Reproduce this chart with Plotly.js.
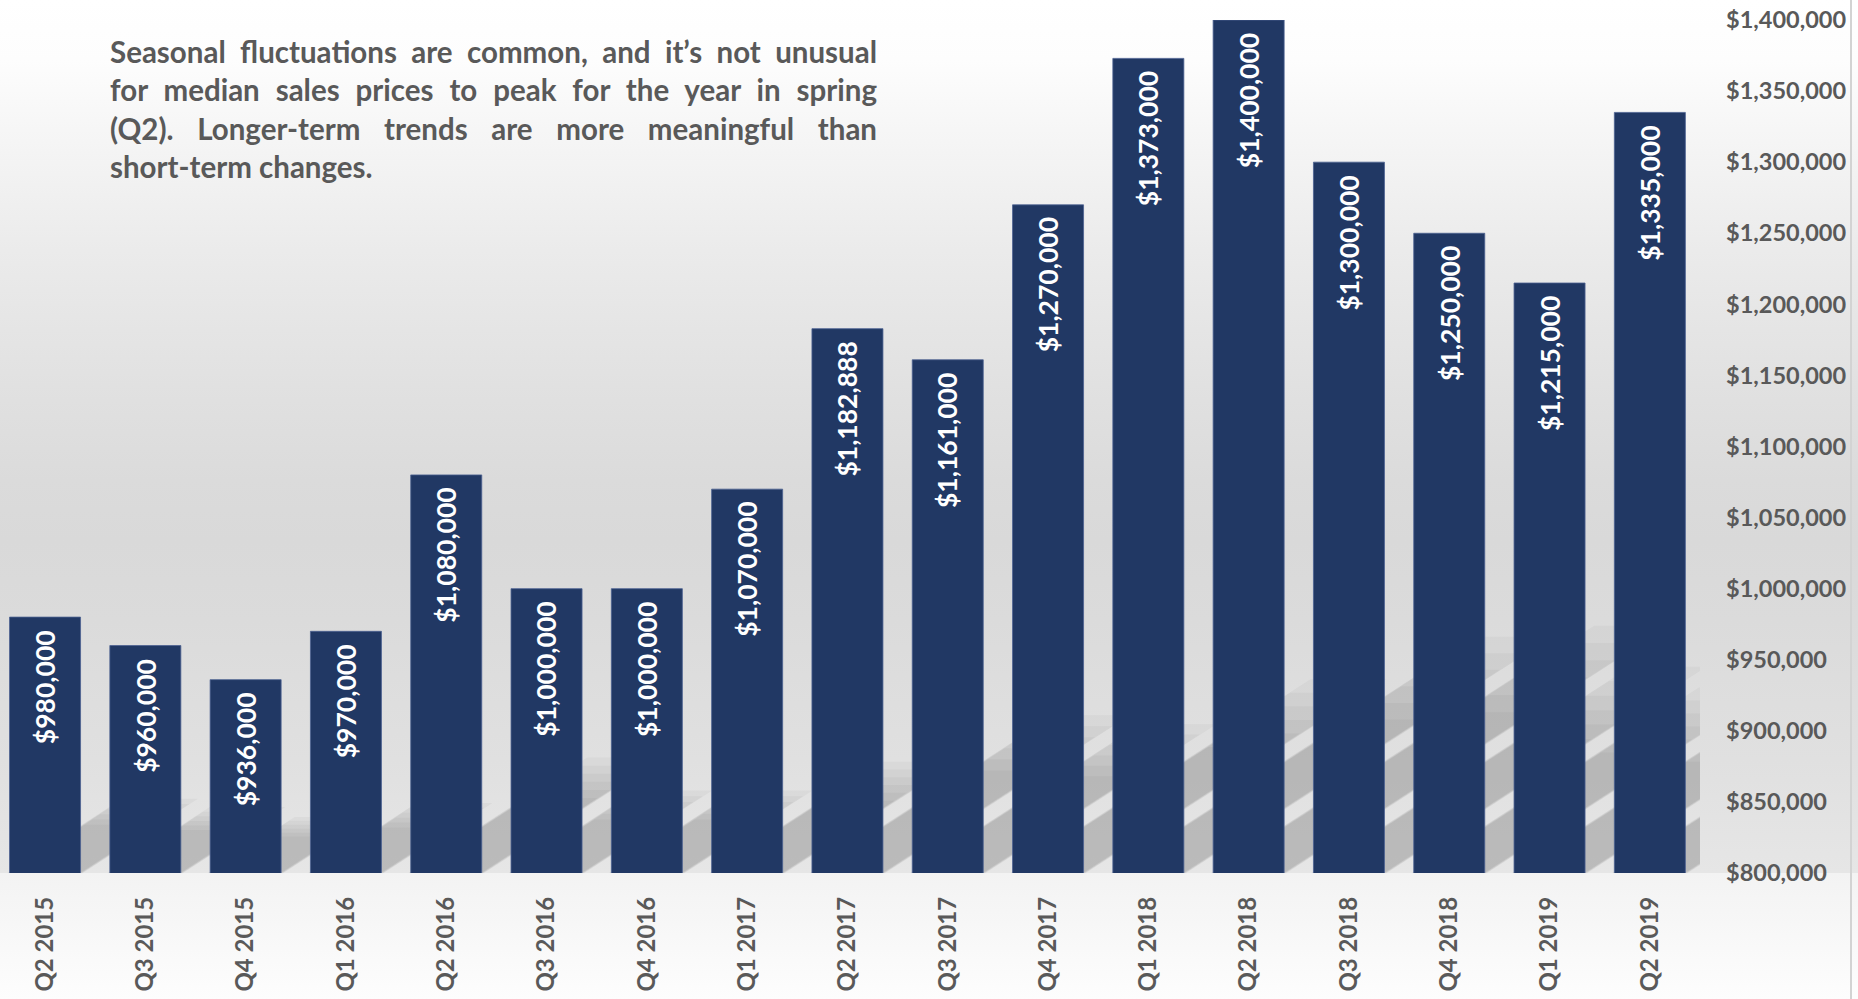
<!DOCTYPE html>
<html>
<head>
<meta charset="utf-8">
<script src="https://cdn.plot.ly/plotly-3.0.1.min.js"></script>
<style>
  html, body { margin: 0; padding: 0; }
  #chart {
    width: 1858px; height: 999px;
    background: linear-gradient(to bottom,
      #ffffff 0px, #fdfdfd 60px, #f6f6f6 130px, #ebebeb 250px, #e5e5e5 330px,
      #e0e0e0 400px, #dbdbdb 480px, #d9d9d9 540px, #dbdbdb 620px, #e0e0e0 760px,
      #e6e6e6 873px, #f3f3f3 873px, #fdfdfd 999px);
  }
</style>
</head>
<body>
<div id="chart"></div>
<script>
// ---- data ----
const categories = ['Q2 2015','Q3 2015','Q4 2015','Q1 2016','Q2 2016','Q3 2016','Q4 2016','Q1 2017',
  'Q2 2017','Q3 2017','Q4 2017','Q1 2018','Q2 2018','Q3 2018','Q4 2018','Q1 2019','Q2 2019'];
const prices = [980000, 960000, 936000, 970000, 1080000, 1000000, 1000000, 1070000,
  1182888, 1161000, 1270000, 1373000, 1400000, 1300000, 1250000, 1215000, 1335000];
const priceLabels = ['$980,000','$960,000','$936,000','$970,000','$1,080,000','$1,000,000','$1,000,000','$1,070,000',
  '$1,182,888','$1,161,000','$1,270,000','$1,373,000','$1,400,000','$1,300,000','$1,250,000','$1,215,000','$1,335,000'];
const yTickVals = [800000, 850000, 900000, 950000, 1000000, 1050000, 1100000, 1150000,
  1200000, 1250000, 1300000, 1350000, 1400000];
const yTickText = ['$800,000','$850,000','$900,000','$950,000','$1,000,000','$1,050,000','$1,100,000','$1,150,000',
  '$1,200,000','$1,250,000','$1,300,000','$1,350,000','$1,400,000'];
const noteLines = [
  'Seasonal fluctuations are common, and it’s not unusual',
  'for median sales prices to peak for the year in spring',
  '(Q2). Longer-term trends are more meaningful than',
  'short-term changes.'
];

// ---- layout constants ----
const W = 1858, H = 999;
const M = {l: 0, r: 158, t: 20, b: 126};
const plotW = W - M.l - M.r, plotH = H - M.t - M.b;
const yMin = 800000, yMax = 1400000;
const xRange = [-0.449, categories.length - 0.5];
const bargap = 0.292;
const barW = 1 - bargap;
const pxPerCat = plotW / (xRange[1] - xRange[0]);
const pxPerVal = plotH / (yMax - yMin);
const py = px => (H - M.b - px) / plotH;   // page px -> paper y
const px2x = px => (px - M.l) / plotW;     // page px -> paper x

const xIdx = categories.map((_, i) => i);
const font = 'Lato, "Open Sans", sans-serif';
const grey = '#595959';

// ---- soft perspective shadows (derived from the data values) ----
const shapes = [];
const shadowRatio = 0.29, skew = 1.55, nLayers = 6;
prices.forEach((v, i) => {
  const hFull = shadowRatio * (v - yMin);
  for (let k = 0; k < nLayers; k++) {
    const f = 1 - k * 0.07;               // layer height fraction (fades toward top)
    const grow = 2.5 - k * 0.6;           // px, softens the slanted edges
    const hVal = hFull * f;
    const dx = skew * hVal * pxPerVal / pxPerCat;
    const ec = grow / pxPerCat;
    const x0 = i - barW / 2 - ec, x1 = i + barW / 2 + ec;
    const top = yMin + hVal;
    const d = `M ${x0} ${yMin} L ${x1} ${yMin} L ${x1 + dx} ${top} L ${x0 + dx} ${top} Z`;
    shapes.push({type: 'path', xref: 'x', yref: 'y', path: d, layer: 'below',
      fillcolor: 'rgba(0,0,0,0.033)', line: {width: 0}});
  }
});
// right border line
shapes.push({type: 'line', xref: 'paper', yref: 'paper', x0: px2x(1851), x1: px2x(1851),
  y0: py(H), y1: py(0), line: {color: '#d3d3d3', width: 2}});

// ---- annotations ----
const annotations = [{
  xref: 'paper', yref: 'paper', x: px2x(108), y: py(32), xanchor: 'left', yanchor: 'top',
  text: noteLines.join('<br>'), align: 'left', showarrow: false,
  font: {family: font, size: 29.5, color: grey, weight: 700}
}];
prices.forEach((v, i) => {
  annotations.push({
    x: i, y: v, xref: 'x', yref: 'y', text: priceLabels[i], textangle: -90,
    xanchor: 'center', yanchor: 'top', yshift: -11, showarrow: false,
    font: {family: font, size: 26.5, color: '#ffffff', weight: 700}
  });
});

const trace = {
  type: 'bar', x: xIdx, y: prices,
  marker: {color: '#213864', line: {color: '#4b6191', width: 0.8}},
  hoverinfo: 'skip'
};

const layout = {
  width: W, height: H, autosize: false,
  margin: {l: M.l, r: M.r, t: M.t, b: M.b, pad: 0},
  paper_bgcolor: 'rgba(0,0,0,0)', plot_bgcolor: 'rgba(0,0,0,0)',
  bargap: bargap, showlegend: false,
  xaxis: {
    range: xRange, tickvals: xIdx, ticktext: categories, tickangle: -90,
    showgrid: false, zeroline: false, showline: false, ticks: '',
    ticklabelstandoff: 18,
    tickfont: {family: font, size: 24, color: grey, weight: 700}
  },
  yaxis: {
    range: [yMin, yMax], side: 'right', tickvals: yTickVals, ticktext: yTickText,
    showgrid: false, zeroline: false, showline: false, ticks: '',
    ticklabelstandoff: 25,
    tickfont: {family: font, size: 23.5, color: grey, weight: 700}
  },
  shapes: shapes,
  annotations: annotations
};

Plotly.newPlot('chart', [trace], layout, {displayModeBar: false, staticPlot: true}).then(gd => {
  // justify the first lines of the note
  const target = 767;
  const ann = gd.querySelector('g.annotation[data-index="0"]');
  if (!ann) return;
  const lines = ann.querySelectorAll('text.annotation-text tspan.line');
  lines.forEach((ts, k) => {
    if (k >= lines.length - 1) return;
    const len = ts.getComputedTextLength();
    const spaces = (ts.textContent.match(/[ \u00a0]/g) || []).length;
    if (spaces > 0 && len < target) ts.style.wordSpacing = ((target - len) / spaces) + 'px';
  });
});
</script>
</body>
</html>
